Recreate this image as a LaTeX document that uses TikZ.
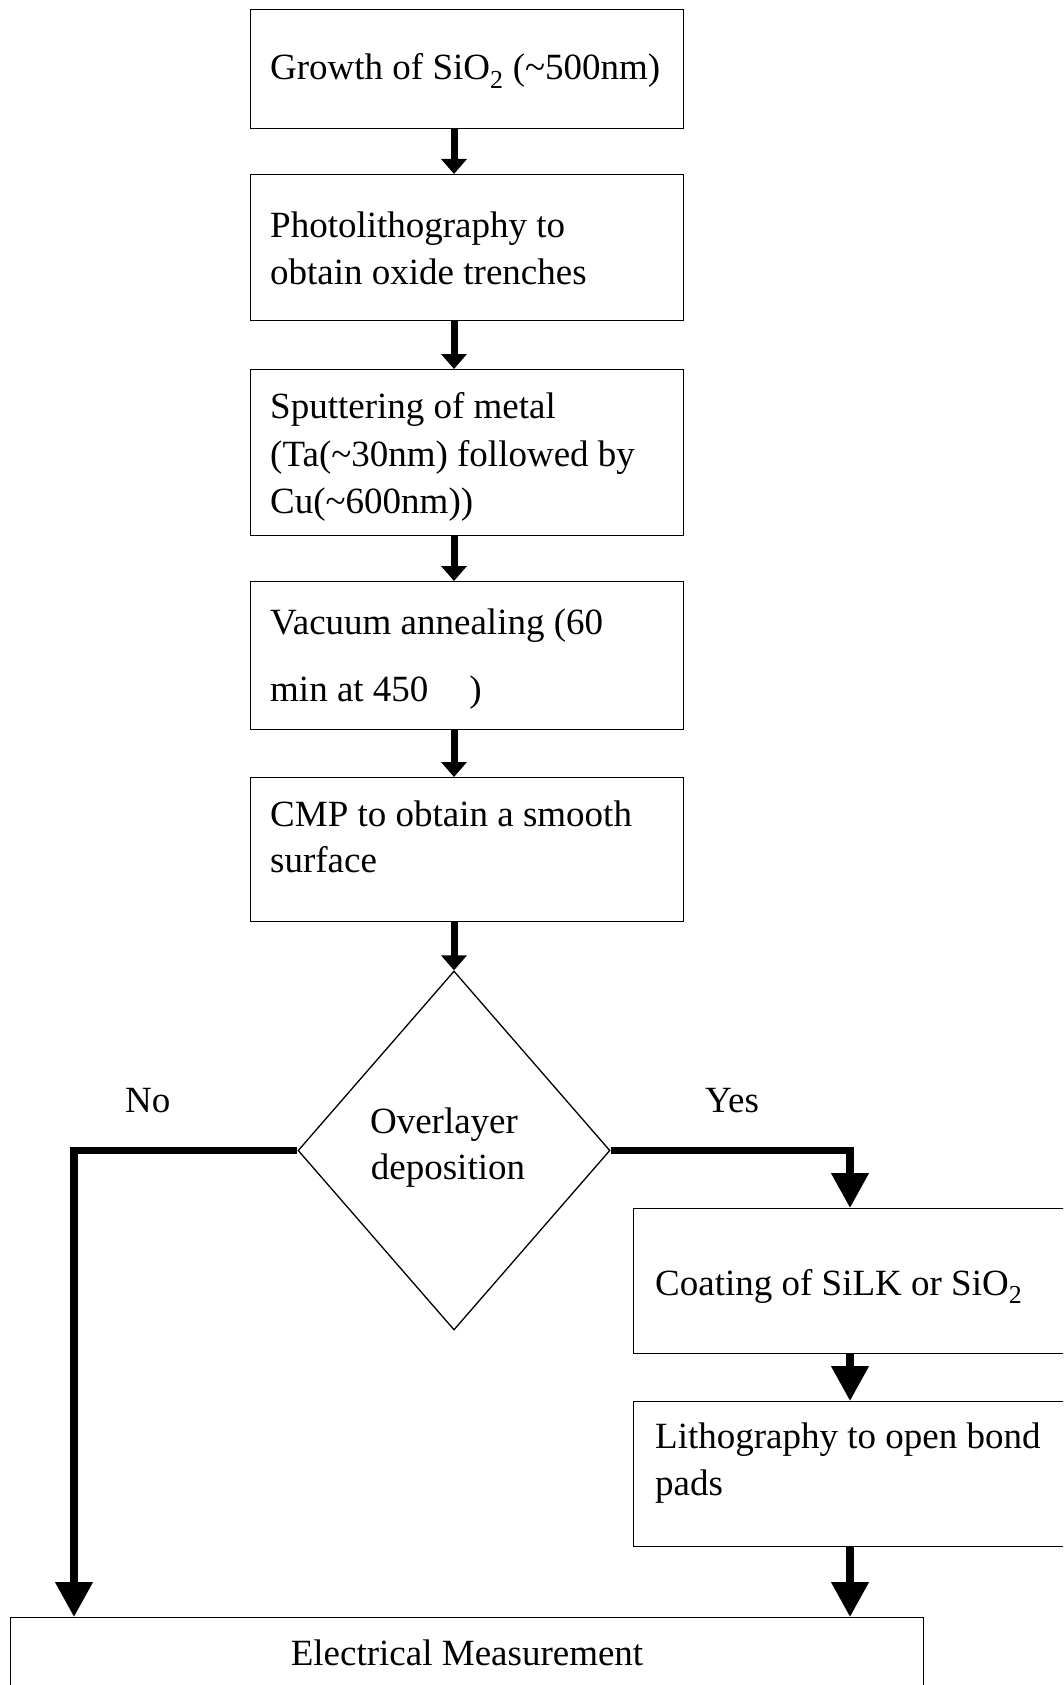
\documentclass[tikz,border=0pt]{standalone}
\usepackage{fontspec}
\setmainfont{Liberation Serif}
\usetikzlibrary{arrows.meta,shapes.geometric}
\begin{document}
\begin{tikzpicture}[x=1pt,y=-1pt,
  box/.style={draw,line width=1.3pt,rectangle,inner sep=0pt,anchor=north west},
  txt/.style={anchor=base west,inner sep=0pt,font=\fontsize{37}{47}\selectfont},
  ctxt/.style={anchor=base,inner sep=0pt,font=\fontsize{37}{47}\selectfont},
  smallarrow/.style={line width=7pt,-{Triangle[width=25pt,length=15pt]}},
  bigarrow/.style={line width=7.5pt,line join=miter,-{Triangle[width=36pt,length=35pt]}}
]
\useasboundingbox (0,0) rectangle (1063,1685);
\clip (0,0) rectangle (1063,1685);

% boxes
\node[box,minimum width=433pt,minimum height=119pt] (b1) at (250,9) {};
\node[box,minimum width=433pt,minimum height=146pt] (b2) at (250,174) {};
\node[box,minimum width=433pt,minimum height=166pt] (b3) at (250,369) {};
\node[box,minimum width=433pt,minimum height=148pt] (b4) at (250,581) {};
\node[box,minimum width=433pt,minimum height=144pt] (b5) at (250,777) {};
\node[draw,diamond,line width=1.3pt,minimum width=312pt,minimum height=359pt,inner sep=0pt] (d) at (454,1150.5) {};
\node[box,minimum width=470pt,minimum height=145pt] (coat) at (633,1208) {};
\node[box,minimum width=470pt,minimum height=145pt] (litho) at (633,1401) {};
\node[box,minimum width=913pt,minimum height=120pt] (elec) at (9.5,1617) {};

% texts
\node[txt] (t1) at (270,80) {Growth of SiO\textsubscript{2} (\textasciitilde500nm)};
\node[txt] (t2a) at (270,238) {Photolithography to};
\node[txt] (t2b) at (270,285) {obtain oxide trenches};
\node[txt] (t3a) at (270,418) {Sputtering of metal};
\node[txt] (t3b) at (270,466) {(Ta(\textasciitilde30nm) followed by};
\node[txt] (t3c) at (270,513) {Cu(\textasciitilde600nm))};
\node[txt] (t4a) at (270,634) {Vacuum annealing (60};
\node[txt] (t4b) at (270,701) {min at 450\hspace{41pt})};
\node[txt] (t5a) at (270,826) {CMP to obtain a smooth};
\node[txt] (t5b) at (270,872) {surface};
\node[ctxt] (dta) at (444,1133) {Overlayer};
\node[ctxt] (dtb) at (448,1179) {deposition};
\node[txt] (no) at (125,1112) {No};
\node[txt] (yes) at (705,1112) {Yes};
\node[txt] (tc) at (655,1295) {Coating of SiLK or SiO\textsubscript{2}};
\node[txt] (tla) at (655,1448) {Lithography to open bond};
\node[txt] (tlb) at (655,1495) {pads};
\node[ctxt] (te) at (467,1665) {Electrical Measurement};

% connectors
\coordinate (ax) at (454,0);
\coordinate (rx) at (850,0);
\coordinate (lx) at (74,0);
\draw[smallarrow] (ax |- b1.south) -- (ax |- b2.north);
\draw[smallarrow] (ax |- b2.south) -- (ax |- b3.north);
\draw[smallarrow] (ax |- b3.south) -- (ax |- b4.north);
\draw[smallarrow] (ax |- b4.south) -- (ax |- b5.north);
\draw[smallarrow] (ax |- b5.south) -- (d.north);
\draw[bigarrow] (d.east) -- (d.east -| rx) -- (rx |- coat.north);
\draw[bigarrow] (d.west) -- (d.west -| lx) -- (lx |- elec.north);
\draw[bigarrow] (rx |- coat.south) -- (rx |- litho.north);
\draw[bigarrow] (rx |- litho.south) -- (rx |- elec.north);
\end{tikzpicture}
\end{document}
